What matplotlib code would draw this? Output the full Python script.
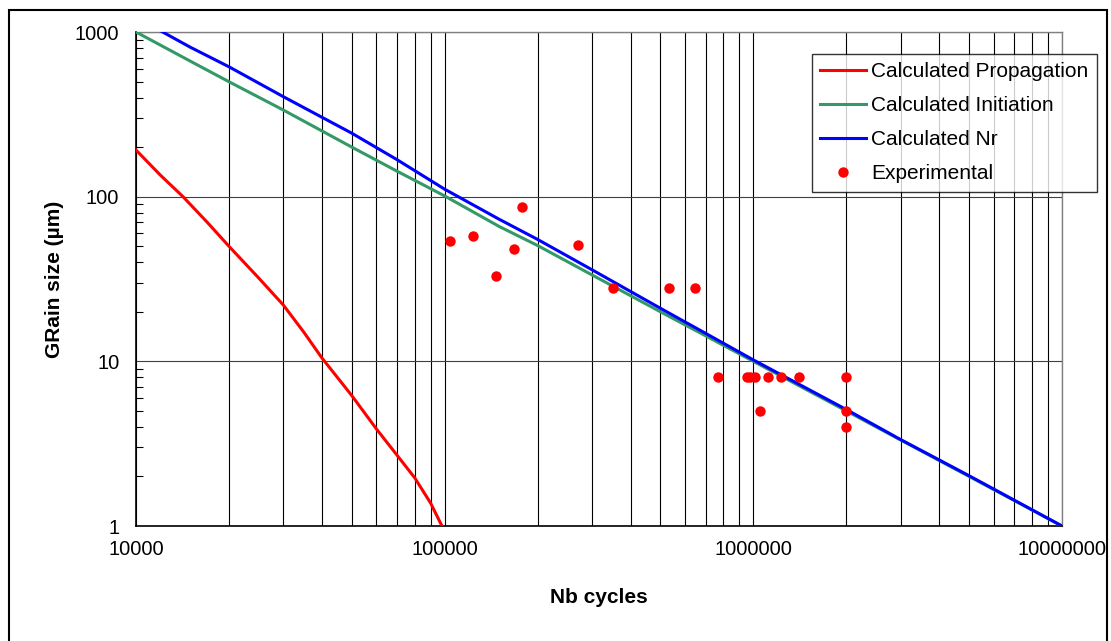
import matplotlib
matplotlib.use("Agg")
import matplotlib.pyplot as plt
from matplotlib.patches import Rectangle
from matplotlib.ticker import FixedLocator, NullFormatter, LogLocator

plt.rcParams['font.family'] = ['Liberation Sans', 'DejaVu Sans']

# Calculated propagation (red)
prop_x = [10000, 12000, 14200, 17000, 20000, 25000, 30000, 35000, 40000, 50000, 60000, 70000, 80000, 90000, 98000]
prop_y = [192, 135, 100, 70, 50, 32, 22, 15, 10.5, 6.2, 3.9, 2.7, 1.96, 1.38, 1.0]

# Calculated initiation (green)
init_x = [10000, 15000, 20000, 30000, 50000, 70000, 100000, 150000, 200000, 300000, 500000, 700000,
          1000000, 2000000, 3000000, 5000000, 10000000]
init_y = [1000, 665, 499, 336, 200, 143, 101, 66, 50.5, 33.5, 20, 14.3, 10.0, 5.0, 3.33, 2.0, 1.0]

# Calculated Nr (blue)
nr_x = [11000, 12200, 15000, 20000, 30000, 50000, 70000, 100000, 150000, 200000, 300000, 500000, 700000,
        1000000, 2000000, 3000000, 5000000, 10000000]
nr_y = [1110, 1000, 808, 615, 405, 243, 168, 111, 73, 55, 36, 21, 14.8, 10.2, 5.1, 3.35, 2.02, 1.0]

# Experimental points
exp_x = [104000, 123500, 146600, 167700, 178000, 270000, 351000, 533000, 647000,
         770000, 951000, 975000, 1012000, 1048000, 1113000, 1229000, 1406000, 2000000, 2000000, 2000000]
exp_y = [54, 58, 33, 48, 87, 51, 28, 28, 28,
         8, 8, 8, 8, 5, 8, 8, 8, 8, 5, 4]

x_ticks = [10000, 100000, 1000000, 10000000]
y_ticks = [1, 10, 100, 1000]

fig = plt.figure(figsize=(11.11, 6.41), dpi=100)
ax = fig.add_axes([136 / 1111, 1 - 526 / 641, (1062 - 136) / 1111, (526 - 32) / 641])

ax.plot(prop_x, prop_y, color='#ff0000', lw=2.2, label='Calculated Propagation', zorder=3)
ax.plot(init_x, init_y, color='#339966', lw=2.2, label='Calculated Initiation', zorder=3)
ax.plot(nr_x, nr_y, color='#0000ff', lw=2.2, label='Calculated Nr', zorder=4)
ax.plot(exp_x, exp_y, 'o', color='#ff0000', ms=7.5, mec='none', label='Experimental', zorder=5)

ax.set_xscale('log')
ax.set_yscale('log')
ax.set_xlim(1e4, 1e7)
ax.set_ylim(1, 1000)

# x grid on every minor decade step, y grid only on decades
ax.xaxis.set_major_locator(FixedLocator(x_ticks))
ax.xaxis.set_minor_locator(LogLocator(base=10, subs=range(2, 10)))
ax.xaxis.set_minor_formatter(NullFormatter())
ax.set_xticklabels([str(v) for v in x_ticks])
ax.yaxis.set_major_locator(FixedLocator(y_ticks))
ax.yaxis.set_minor_locator(LogLocator(base=10, subs=range(2, 10)))
ax.yaxis.set_minor_formatter(NullFormatter())
ax.set_yticklabels([str(v) for v in y_ticks])

ax.grid(True, which='both', axis='x', color='black', lw=0.8)
ax.grid(True, which='major', axis='y', color='#404040', lw=0.8)

ax.tick_params(axis='x', which='both', length=0, pad=10, labelsize=14.5)
ax.tick_params(axis='y', which='major', length=0, pad=12, labelsize=14.5)
ax.tick_params(axis='y', which='minor', direction='in', length=5, width=0.8)

for side in ['left', 'bottom']:
    ax.spines[side].set_color('black')
    ax.spines[side].set_linewidth(1.2)
for side in ['top', 'right']:
    ax.spines[side].set_color('#808080')
    ax.spines[side].set_linewidth(1.0)

ax.set_xlabel('Nb cycles', fontsize=15, fontweight='bold', labelpad=21)
ax.set_ylabel('GRain size (µm)', fontsize=15, fontweight='bold', labelpad=8)

leg = ax.legend(loc='upper right', bbox_to_anchor=(1097 / 1111, 1 - 54 / 641),
                bbox_transform=fig.transFigure, fontsize=15, frameon=True, fancybox=False,
                edgecolor='black', borderpad=0.4, labelspacing=0.72, handlelength=2.2,
                handletextpad=0.25, borderaxespad=0)
leg.get_frame().set_linewidth(1.0)

# outer chart border
fig.patches.append(Rectangle((9 / 1111, -0.01), 1098 / 1111, 1 - 10 / 641 + 0.01,
                             transform=fig.transFigure, fill=False, edgecolor='black', lw=1.5))

fig.savefig('out.png', dpi=100)
